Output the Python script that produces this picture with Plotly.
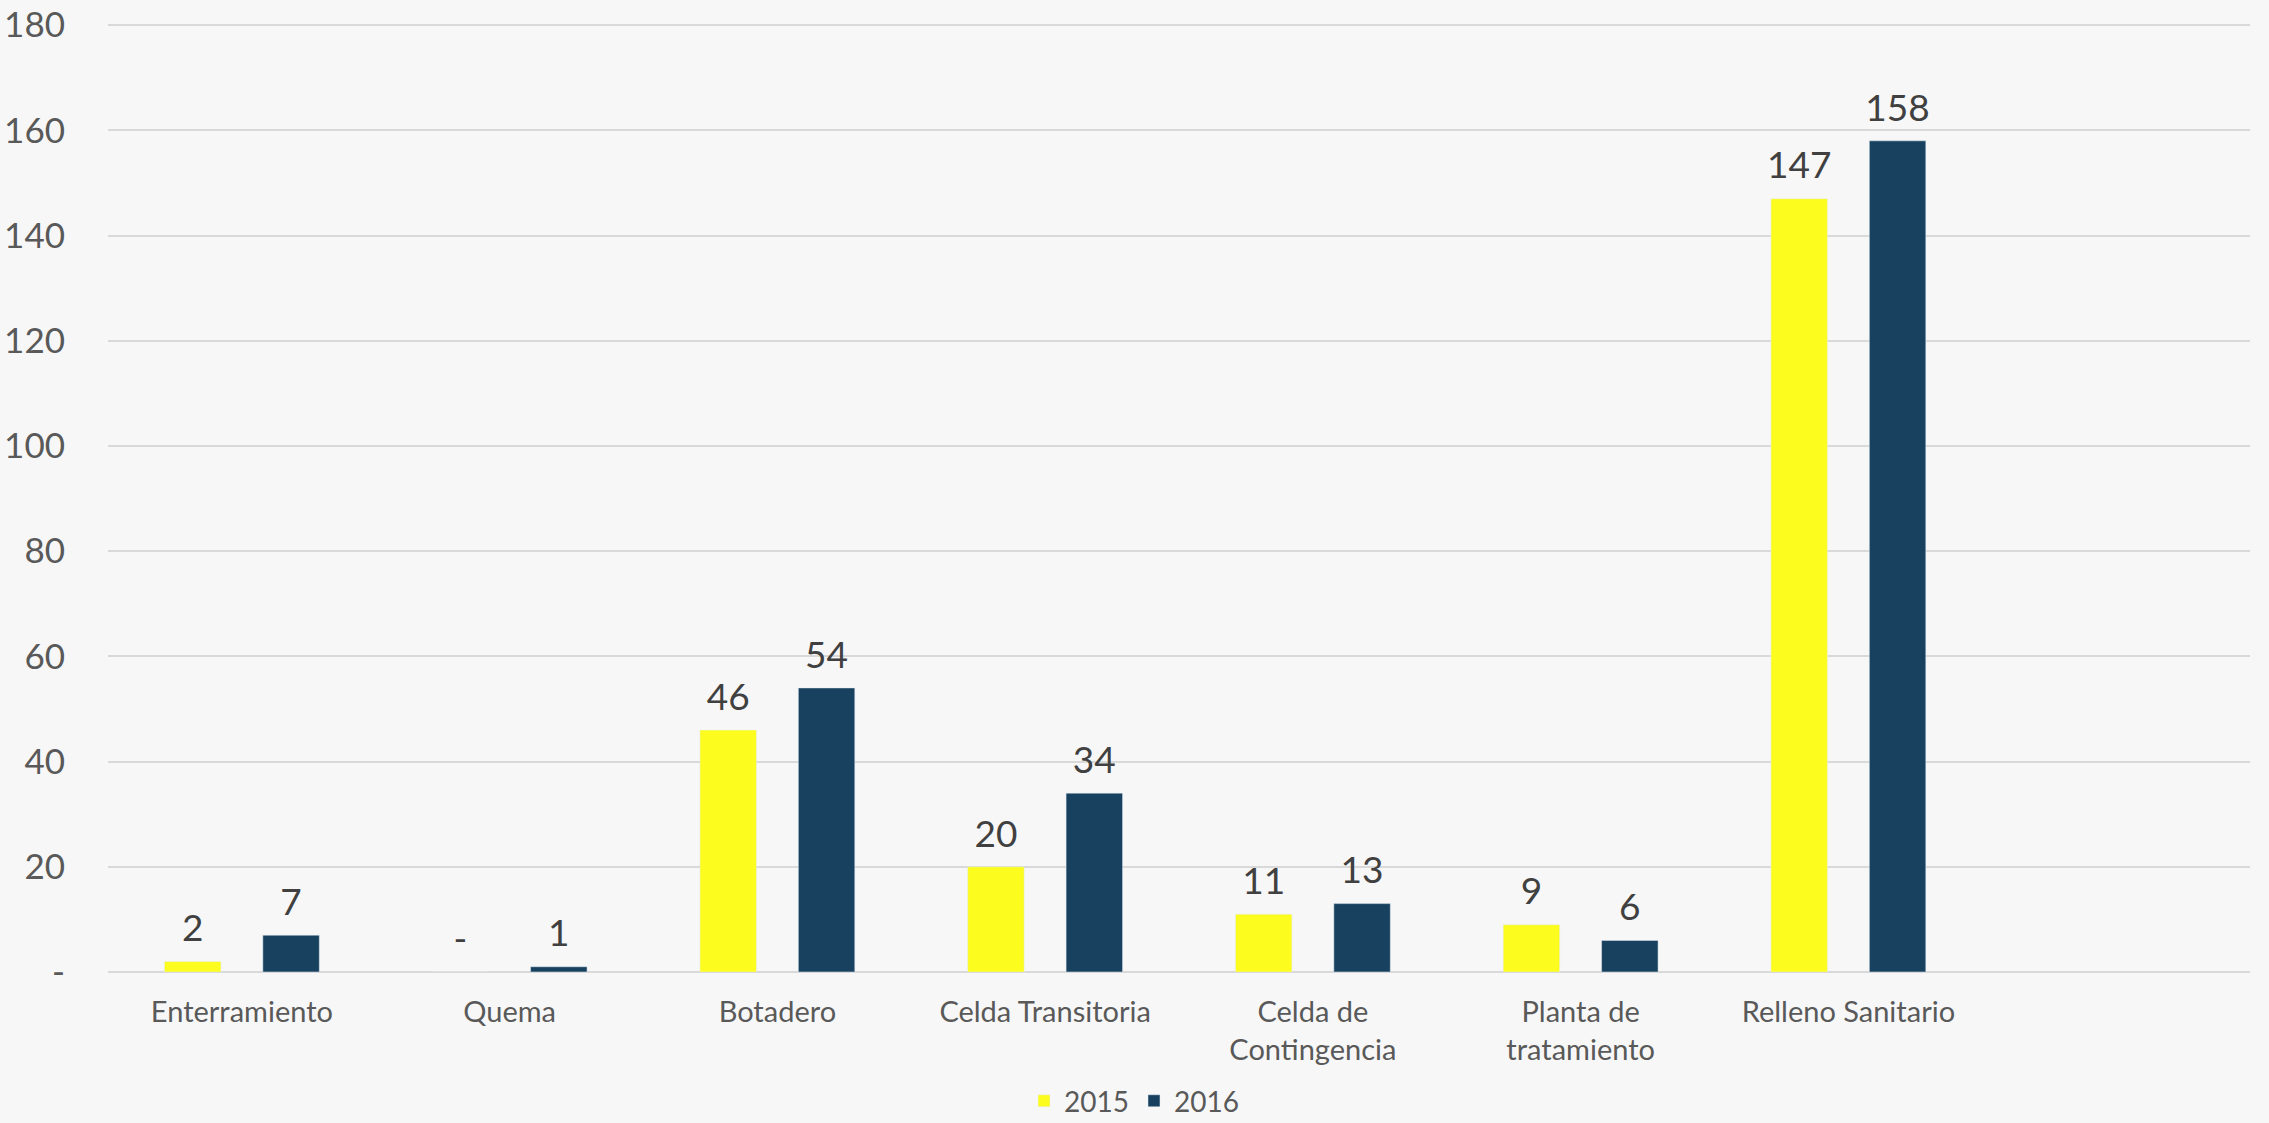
import plotly.graph_objects as go

categories = ["Enterramiento", "Quema", "Botadero", "Celda Transitoria",
              "Celda de<br>Contingencia", "Planta de<br>tratamiento", "Relleno Sanitario"]
values_2015 = [2, 0, 46, 20, 11, 9, 147]
values_2016 = [7, 1, 54, 34, 13, 6, 158]
y_tick_vals = [0, 20, 40, 60, 80, 100, 120, 140, 160, 180]
y_tick_text = ["-", "20", "40", "60", "80", "100", "120", "140", "160", "180"]

FONT = "Lato, 'Open Sans', sans-serif"
YELLOW = "#FCFC1E"
NAVY = "#17415F"

def labels(vals):
    return ["-" if v == 0 else str(v) for v in vals]

fig = go.Figure()
for name, vals, col, grp in [("2015", values_2015, YELLOW, "a"), ("2016", values_2016, NAVY, "b")]:
    fig.add_trace(go.Bar(name=name, x=categories, y=vals, marker_color=col,
                         offsetgroup=grp, alignmentgroup="g"))
for name, vals, grp in [("2015", values_2015, "a"), ("2016", values_2016, "b")]:
    fig.add_trace(go.Scatter(x=categories, y=vals, mode="markers+text", text=labels(vals),
                             textposition="top center", offsetgroup=grp, alignmentgroup="g",
                             marker=dict(size=16, opacity=0), showlegend=False,
                             cliponaxis=False, hoverinfo="skip",
                             textfont=dict(size=37, color="#404040", family=FONT)))

fig.update_layout(
    width=2269, height=1123,
    paper_bgcolor="#F7F7F7", plot_bgcolor="#F7F7F7",
    barmode="group", bargap=0.265, bargroupgap=0.426,
    scattermode="group", scattergap=0.265,
    margin=dict(l=108, r=19, t=23, b=151, autoexpand=False),
    font=dict(family=FONT, color="#595959"),
    xaxis=dict(type="category", range=[-0.5, 7.5], showgrid=False, showline=False,
               zeroline=False, tickfont=dict(size=29, color="#595959"), ticks="",
               ticklabelstandoff=20, automargin=False),
    yaxis=dict(range=[0, 180.4], tickvals=y_tick_vals, ticktext=y_tick_text,
               showgrid=True, gridcolor="#D9D9D9", gridwidth=2, zeroline=True,
               zerolinecolor="#D9D9D9", zerolinewidth=2, ticks="",
               tickfont=dict(size=35, color="#595959"), ticklabelstandoff=42,
               automargin=False),
    legend=dict(orientation="h", x=0.479, xanchor="center", y=-0.136, yanchor="middle",
                font=dict(size=28, color="#595959"), itemwidth=30,
                bgcolor="rgba(0,0,0,0)"),
)

fig.write_html("out.html", config={"displayModeBar": False},
               post_script="document.body.style.margin='0';document.body.style.overflow='hidden';")
